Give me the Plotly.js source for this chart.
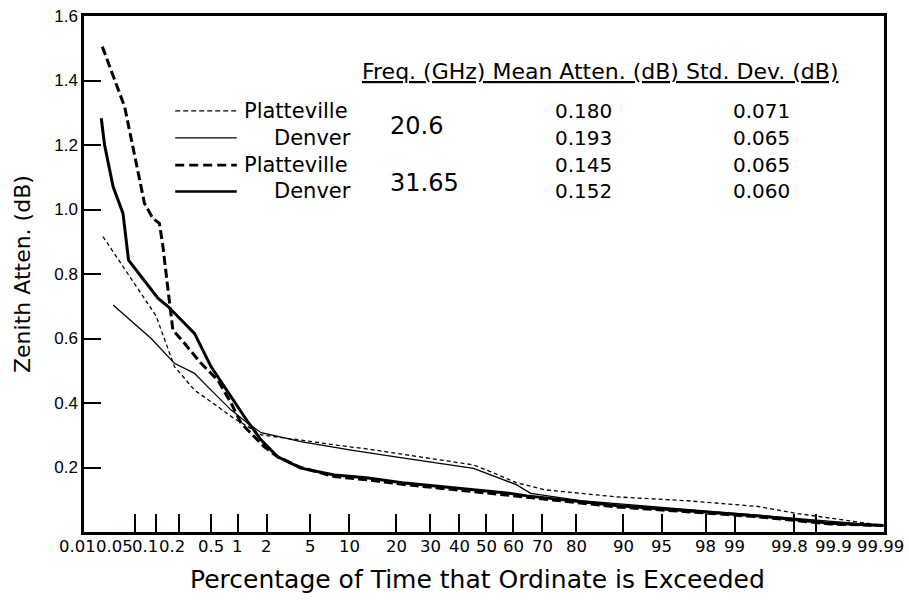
<!DOCTYPE html>
<html>
<head>
<meta charset="utf-8">
<script src="https://cdn.plot.ly/plotly-3.0.1.min.js"></script>
<style>html,body{margin:0;padding:0;background:#fff;}#chart{width:909px;height:600px;}</style>
</head>
<body>
<div id="chart"></div>
<script>
// ---- data (percentage of time exceeded, zenith attenuation in dB) ----
const tickPercents = [0.01, 0.05, 0.1, 0.2, 0.5, 1, 2, 5, 10, 20, 30, 40, 50, 60, 70, 80, 90, 95, 98, 99, 99.8, 99.9, 99.99];
const tickLabels = ["0.01", "0.05", "0.1", "0.2", "0.5", "1", "2", "5", "10", "20", "30", "40", "50", "60", "70", "80", "90", "95", "98", "99", "99.8", "99.9", "99.99"];
const yTickVals = [0.2, 0.4, 0.6, 0.8, 1.0, 1.2, 1.4, 1.6];

const platt206Pct = [0.0167, 0.05, 0.1, 0.176, 0.316, 0.6, 0.9, 1.2, 1.76, 4.15, 7.75, 13.1, 21.6, 45.3, 52, 61.1, 70.8, 88.8, 97, 99.46, 99.8, 99.99];
const platt206Db  = [0.916, 0.771, 0.67, 0.513, 0.44, 0.389, 0.353, 0.332, 0.301, 0.285, 0.27, 0.258, 0.242, 0.208, 0.186, 0.153, 0.131, 0.109, 0.097, 0.079, 0.059, 0.02];

const denver206Pct = [0.0239, 0.0857, 0.176, 0.316, 0.5, 0.85, 1.28, 1.76, 4.15, 10.3, 21.6, 45.3, 61.1, 66.2, 81.1, 97, 99.46, 99.99];
const denver206Db  = [0.704, 0.600, 0.523, 0.492, 0.440, 0.378, 0.337, 0.308, 0.280, 0.254, 0.230, 0.197, 0.147, 0.120, 0.097, 0.070, 0.053, 0.02];

const platt3165Pct = [0.0163, 0.0356, 0.069, 0.090, 0.111, 0.124, 0.145, 0.168, 0.237, 0.38, 0.60, 0.85, 1.09, 1.39, 1.89, 2.55, 4.15, 7.75, 13.1, 21.6, 32.6, 45.3, 58.5, 64.9, 81.1, 88.8, 97, 99.46, 99.936, 99.99];
const platt3165Db  = [1.505, 1.319, 1.019, 0.973, 0.957, 0.885, 0.750, 0.626, 0.585, 0.523, 0.471, 0.399, 0.337, 0.306, 0.264, 0.233, 0.200, 0.172, 0.162, 0.148, 0.137, 0.126, 0.115, 0.108, 0.090, 0.078, 0.063, 0.047, 0.025, 0.02];

const denver3165Pct = [0.0157, 0.0177, 0.0239, 0.0337, 0.0407, 0.106, 0.145, 0.316, 0.50, 1.28, 1.76, 2.55, 4.15, 7.75, 13.1, 21.6, 32.6, 45.3, 58.5, 64.9, 81.1, 88.8, 97, 99.46, 99.936, 99.99];
const denver3165Db  = [1.283, 1.2, 1.071, 0.988, 0.843, 0.725, 0.699, 0.616, 0.513, 0.342, 0.285, 0.233, 0.198, 0.177, 0.168, 0.153, 0.142, 0.131, 0.120, 0.112, 0.095, 0.082, 0.066, 0.050, 0.027, 0.02];

const tableFreqs = ["20.6", "31.65"];
const tableSites = ["Platteville", "Denver", "Platteville", "Denver"];
const tableMeans = ["0.180", "0.193", "0.145", "0.152"];
const tableStds  = ["0.071", "0.065", "0.065", "0.060"];
const tableHeader = "Freq. (GHz) Mean Atten. (dB) Std. Dev. (dB)";
const xTitle = "Percentage of Time that Ordinate is Exceeded";
const yTitle = "Zenith Atten. (dB)";

// ---- normal probability scale (inverse normal CDF) ----
function probit(p) {
  const a = [-3.969683028665376e+01, 2.209460984245205e+02, -2.759285104469687e+02, 1.383577518672690e+02, -3.066479806614716e+01, 2.506628277459239e+00];
  const b = [-5.447609879822406e+01, 1.615858368580409e+02, -1.556989798598866e+02, 6.680131188771972e+01, -1.328068155288572e+01];
  const c = [-7.784894002430293e-03, -3.223964580411365e-01, -2.400758277161838e+00, -2.549732539343734e+00, 4.374664141464968e+00, 2.938163982698783e+00];
  const d = [7.784695709041462e-03, 3.224671290700398e-01, 2.445134137142996e+00, 3.754408661907416e+00];
  const plow = 0.02425, phigh = 1 - plow;
  let q, r;
  if (p < plow) {
    q = Math.sqrt(-2 * Math.log(p));
    return (((((c[0]*q+c[1])*q+c[2])*q+c[3])*q+c[4])*q+c[5]) / ((((d[0]*q+d[1])*q+d[2])*q+d[3])*q+1);
  }
  if (p > phigh) {
    q = Math.sqrt(-2 * Math.log(1 - p));
    return -(((((c[0]*q+c[1])*q+c[2])*q+c[3])*q+c[4])*q+c[5]) / ((((d[0]*q+d[1])*q+d[2])*q+d[3])*q+1);
  }
  q = p - 0.5; r = q * q;
  return (((((a[0]*r+a[1])*r+a[2])*r+a[3])*r+a[4])*r+a[5])*q / (((((b[0]*r+b[1])*r+b[2])*r+b[3])*r+b[4])*r+1);
}
const toZ = arr => arr.map(v => probit(v / 100));

const FONT = "DejaVu Sans, Liberation Sans, Arial, sans-serif";

function series(pct, db, name, width, dash) {
  return {
    type: "scatter", mode: "lines", name: name,
    x: toZ(pct), y: db, text: pct.map(v => v + "%"),
    line: { color: "#000", width: width, dash: dash, shape: "linear" },
    hovertemplate: "%{text}: %{y:.3f} dB<extra>" + name + "</extra>"
  };
}

const styles = [[1.3, "4px,3px"], [1.3, "solid"], [3, "9px,4px"], [3, "solid"]];
const traces = [
  series(platt206Pct, platt206Db, "Platteville 20.6 GHz", styles[0][0], styles[0][1]),
  series(denver206Pct, denver206Db, "Denver 20.6 GHz", styles[1][0], styles[1][1]),
  series(platt3165Pct, platt3165Db, "Platteville 31.65 GHz", styles[2][0], styles[2][1]),
  series(denver3165Pct, denver3165Db, "Denver 31.65 GHz", styles[3][0], styles[3][1])
];

// legend/table layout (paper coordinates)
const rowY = [0.816, 0.764, 0.711, 0.660];
const sampleStyles = [[1.3, "5px,3px"], [1.3, "solid"], [2.6, "9px,5px"], [2.6, "solid"]];
const shapes = rowY.map((y, i) => ({
  type: "line", xref: "paper", yref: "paper", x0: 0.114, x1: 0.191, y0: y, y1: y,
  line: { color: "#000", width: sampleStyles[i][0], dash: sampleStyles[i][1] }
}));

const annotations = [];
const A = (o) => annotations.push(Object.assign({ showarrow: false, xanchor: "center", yanchor: "middle" }, o));

A({ xref: "paper", yref: "paper", x: 0.6456, y: 0.892, text: "<u>" + tableHeader + "</u>", font: { family: FONT, size: 22, color: "#000" } });
tableSites.forEach((s, i) => {
  A({ xref: "paper", yref: "paper", x: s === "Platteville" ? 0.1975 : 0.235, y: rowY[i], text: s, xanchor: "left", font: { family: FONT, size: 21, color: "#000" } });
  A({ xref: "paper", yref: "paper", x: 0.6241, y: rowY[i], text: tableMeans[i], font: { family: FONT, size: 20, color: "#000" } });
  A({ xref: "paper", yref: "paper", x: 0.847, y: rowY[i], text: tableStds[i], font: { family: FONT, size: 20, color: "#000" } });
});
A({ xref: "paper", yref: "paper", x: 0.4159, y: 0.7874, text: tableFreqs[0], font: { family: FONT, size: 24, color: "#000" } });
A({ xref: "paper", yref: "paper", x: 0.425, y: 0.6758, text: tableFreqs[1], font: { family: FONT, size: 24, color: "#000" } });

// x tick labels on the probability axis (nudged sideways where the original packs them)
const tickNudge = { "0.01": -11, "0.05": -20, "0.1": -11, "0.2": -7, "99.8": -4, "99.9": 17, "99.99": -3 };
tickPercents.forEach((p, i) => {
  A({ xref: "x", yref: "paper", x: probit(p / 100), y: 0, yanchor: "top", yshift: -3,
      xshift: tickNudge[tickLabels[i]] || 0, text: tickLabels[i],
      font: { family: FONT, size: 16.5, color: "#000" } });
});

// axis titles
A({ xref: "paper", yref: "paper", x: (22 - 84) / 800, y: 0.5, textangle: -90, text: yTitle, font: { family: FONT, size: 22, color: "#000" } });
A({ xref: "paper", yref: "paper", x: 0.4919, y: -0.0925, text: xTitle, font: { family: FONT, size: 25, color: "#000" } });

const layout = {
  width: 909, height: 600,
  margin: { l: 84, r: 25, t: 16, b: 68 },
  paper_bgcolor: "#fff", plot_bgcolor: "#fff",
  showlegend: false,
  font: { family: FONT, color: "#000" },
  xaxis: {
    range: [-3.765, 3.725],
    tickmode: "array", tickvals: toZ(tickPercents.slice(1, -1)), showticklabels: false,
    ticks: "inside", ticklen: 18, tickwidth: 2, tickcolor: "#000",
    showgrid: false, zeroline: false,
    showline: true, linecolor: "#000", linewidth: 2.5, mirror: true
  },
  yaxis: {
    range: [0, 1.6],
    tickmode: "array", tickvals: yTickVals, tickformat: ".1f",
    ticks: "inside", ticklen: 17, tickwidth: 2, tickcolor: "#000",
    tickfont: { family: "Liberation Sans, Arial, sans-serif", size: 17, color: "#000" },
    showgrid: false, zeroline: false,
    showline: true, linecolor: "#000", linewidth: 2.5, mirror: true
  },
  shapes: shapes,
  annotations: annotations
};

Plotly.newPlot("chart", traces, layout, { displayModeBar: false });
</script>
</body>
</html>
